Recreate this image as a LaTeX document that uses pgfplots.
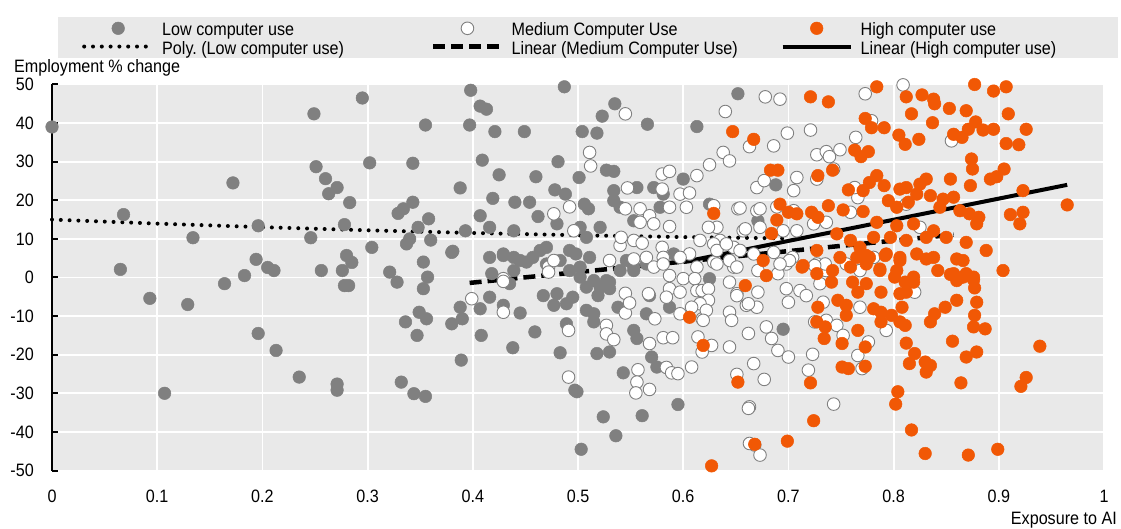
\documentclass[border=0pt]{standalone}
\usepackage{fontspec}
\setmainfont[FakeStretch=0.9]{Liberation Sans}
\usepackage{pgfplots}
\pgfplotsset{compat=1.18}
\definecolor{lowgray}{RGB}{128,128,128}
\definecolor{highor}{RGB}{241,88,5}
\definecolor{bggray}{RGB}{233,233,233}
\pgfplotsset{
 legmark/.style={legend image code/.code={\draw[mark repeat=2,mark phase=2,##1] plot coordinates {(0bp,0bp) (34bp,0bp) (68bp,0bp)};}},
 legline/.style={legend image code/.code={\draw[##1] plot coordinates {(0bp,0bp) (68bp,0bp)};}},
}
\frenchspacing
\newcommand{\lt}[2]{\makebox[#1][l]{\hspace{8bp}\rule[-3.75bp]{0pt}{20.5bp}#2}}
\begin{document}
\begin{tikzpicture}[font=\fontsize{18}{21}\selectfont]
\begin{axis}[
  scale only axis, width=1052bp, height=386bp,
  xmin=0, xmax=1, ymin=-50, ymax=50,
  clip=false,
  axis background/.style={fill=bggray},
  axis lines*=left,
  x axis line style={draw=none},
  y axis line style={black, line width=2bp},
  xtick={0,0.1,0.2,0.3,0.4,0.5,0.6,0.7,0.8,0.9,1},
  xticklabels={0,0.1,0.2,0.3,0.4,0.5,0.6,0.7,0.8,0.9,1},
  ytick={-50,-40,-30,-20,-10,0,10,20,30,40,50},
  yticklabels={-50,-40,-30,-20,-10,0,10,20,30,40,50},
  xtick style={draw=none},
  ytick style={black, line width=2bp},
  tick align=inside, major tick length=5.5bp,
  grid=major, major grid style={white, line width=1.8bp},
  xticklabel style={anchor=north, inner sep=0pt, yshift=-19bp},
  yticklabel style={anchor=east, inner sep=0pt, xshift=-18bp},
  title={Employment \% change},
  title style={at={(rel axis cs:0,1)}, anchor=south west, inner sep=0pt, xshift=-38bp, yshift=2bp},
  xlabel={Exposure to AI},
  xlabel style={at={(rel axis cs:1,0)}, anchor=north east, inner sep=0pt, xshift=13bp, yshift=-41bp},
  legend columns=3,
  legend cell align=left,
  legend style={at={(rel axis cs:0.0057,1.1749)}, anchor=north west, fill=bggray, draw=none,
    inner xsep=24bp, inner ysep=2bp, nodes={inner sep=0pt},
    /tikz/every even column/.style={column sep=0pt},
    /tikz/every odd column/.style={column sep=0pt}},
]
% Low computer use
\addplot[only marks, mark=*, mark size=6.3bp, mark options={draw=lowgray, fill=lowgray, line width=0.5bp}, legmark] coordinates {
(0,39) (0.068,16.3) (0.065,2.1) (0.093,-5.4) (0.107,-30) (0.129,-7) (0.134,10.3) (0.172,24.5)
(0.164,-1.6) (0.183,0.5) (0.196,13.4) (0.194,4.7) (0.196,-14.5) (0.205,2.6) (0.211,1.8) (0.213,-18.9)
(0.235,-25.8) (0.246,10.3) (0.249,42.4) (0.251,28.7) (0.256,1.8) (0.260,25.6) (0.263,21.7) (0.271,23.3)
(0.271,-27.6) (0.271,-29.2) (0.276,1.8) (0.278,-2.1) (0.282,-2.1) (0.278,13.7) (0.28,5.7) (0.283,19.4)
(0.285,3.9) (0.295,46.5) (0.302,29.7) (0.304,7.8)
(0.398,48.5) (0.407,44.4) (0.413,43.6) (0.487,49.4) (0.355,39.5) (0.397,39.5) (0.421,37.8) (0.449,37.8)
(0.504,37.8) (0.518,37.4) (0.535,45) (0.523,41.8) (0.566,39.7) (0.613,39.1) (0.652,47.6) (0.343,29.6)
(0.409,30.4) (0.425,26.6) (0.46,26.1) (0.481,30) (0.501,25.9) (0.527,27.8) (0.534,27.5) (0.388,23.2)
(0.419,20.5) (0.44,19.5) (0.454,19.5) (0.478,22.7) (0.488,21.6) (0.506,19) (0.51,17.8) (0.343,19.5)
(0.329,16.6) (0.334,17.8) (0.358,15.2) (0.348,13) (0.337,8.7) (0.34,10) (0.36,9.7) (0.393,12.1)
(0.407,16) (0.416,13) (0.439,12.1) (0.462,15.8) (0.48,13.9) (0.381,6.8) (0.353,4) (0.321,1.4)
(0.357,0.1) (0.418,1) (0.416,5.2) (0.429,6.1) (0.439,5.2) (0.451,4) (0.464,7) (0.47,7.8)
(0.502,13) (0.508,10.4) (0.492,7) (0.498,6.1) (0.511,5.2) (0.521,13) (0.534,22.5) (0.534,19.9)
(0.54,18.2) (0.556,23.3) (0.572,23.3) (0.581,21.6) (0.553,14.7) (0.578,18.2) (0.6,25.5) (0.591,6.1)
(0.546,4.4) (0.553,2.7) (0.527,-0.8) (0.625,19)
(0.429,5.7) (0.445,4.4) (0.457,5.2) (0.328,-1.2) (0.353,-2.9) (0.439,1.8) (0.435,-1.6) (0.47,3.5)
(0.483,4.4) (0.492,1.8) (0.502,2.7) (0.502,0.1) (0.515,-0.8) (0.508,-2.5) (0.521,-2.5) (0.53,-1.2)
(0.54,1.8) (0.553,1.8) (0.565,3.5) (0.467,-4.7) (0.48,-4.2) (0.495,-5.1) (0.477,-7.2) (0.489,-6.8)
(0.388,-7.7) (0.407,-8.1) (0.39,-10.7) (0.38,-12) (0.416,-5.1) (0.429,-7.2) (0.445,-9.2) (0.336,-11.5)
(0.349,-9) (0.356,-10.7) (0.347,-15) (0.408,-15) (0.438,-18.2) (0.459,-14.1) (0.483,-19.5) (0.389,-21.4)
(0.332,-27.1) (0.344,-30.1) (0.355,-30.8) (0.508,-8.5) (0.515,-9.4) (0.515,-11.5) (0.489,-12) (0.518,-19.7)
(0.53,-19.3) (0.499,-29.6) (0.497,-29.2) (0.524,-36.1) (0.561,-35.8) (0.536,-41) (0.503,-44.5) (0.543,-24.7)
(0.595,-32.9) (0.57,-20.6) (0.575,-23.2) (0.553,-13.7) (0.556,-15.8) (0.565,-9.4) (0.568,-4.7) (0.587,-7.7)
(0.519,-4.7) (0.53,-2.9) (0.538,-7.7) (0.38,6.5) (0.695,-13.4) (0.688,24) (0.671,14.7) (0.625,-0.3)
};
\addlegendentry{\lt{277bp}{Low computer use}}
% Medium computer use
\addplot[only marks, mark=*, mark size=6.3bp, mark options={draw=lowgray, fill=white, line width=0.9bp}, legmark] coordinates {
(0.545,42.4) (0.511,32.4) (0.512,28.9) (0.547,23.2) (0.58,26.8) (0.587,27.5) (0.58,22.9) (0.64,43)
(0.638,32.4) (0.644,30.2) (0.625,29.2) (0.613,26.4) (0.663,33.9) (0.597,21.6) (0.606,21.9) (0.603,18.2)
(0.587,18.2) (0.545,17.8) (0.559,17.8) (0.568,16) (0.572,13.9) (0.587,13.2) (0.58,7.8) (0.559,14.3)
(0.492,18.3) (0.477,16.5) (0.496,12.1) (0.54,8.3) (0.553,9.6) (0.561,8.9) (0.541,10.4) (0.553,4.8)
(0.565,5.2) (0.581,5.2) (0.629,18.6) (0.632,13) (0.624,13) (0.635,9.6) (0.648,7.8) (0.657,12.1)
(0.652,17.8) (0.67,17.3) (0.616,9.6) (0.629,8.7) (0.606,6.1) (0.613,2.7) (0.629,4) (0.648,2.7)
(0.472,2.7) (0.477,4.4) (0.429,-0.3) (0.67,23.3) (0.53,4.4)
(0.399,-5.5) (0.429,-9) (0.429,-1) (0.472,1.4) (0.491,-13.7) (0.491,-25.8) (0.527,-12.4) (0.527,-14.6)
(0.534,-16.1) (0.545,-4.1) (0.545,-9.2) (0.549,-6.6) (0.567,-4.2) (0.573,-10.7) (0.568,-17.1) (0.581,-15.6)
(0.59,-15.6) (0.557,-23.9) (0.556,-27.1) (0.555,-29.9) (0.568,-29) (0.584,-23.3) (0.589,-24.7) (0.595,-24.9)
(0.608,-23.2) (0.587,-2.9) (0.597,-3.8) (0.584,-5.1) (0.587,0.5) (0.6,-0.3) (0.611,-0.3) (0.613,-3.4)
(0.618,-3.4) (0.624,-2.9) (0.624,-5.9) (0.616,-6.8) (0.608,-7.7) (0.597,-9.4) (0.618,-10.7) (0.614,-15.4)
(0.627,-17.6) (0.618,-19.3) (0.572,2.7) (0.581,3.5) (0.597,5.2) (0.632,3.5) (0.644,4.4) (0.651,2.7)
(0.644,-1.2) (0.651,-4.2) (0.66,-7.2) (0.67,-7.7) (0.644,-9) (0.646,-11.1) (0.662,-14.5) (0.667,-22.3)
(0.651,-25.1) (0.663,-33.5) (0.668,-43.4) (0.663,-43) (0.673,-46)
(0.678,46.8) (0.692,46.2) (0.809,49.9) (0.773,47.6) (0.699,37.4) (0.721,38.2) (0.686,34.1) (0.727,31.8)
(0.736,32.6) (0.749,33.1) (0.739,31.3) (0.764,36.3) (0.779,40.6) (0.855,35.4) (0.708,25.9) (0.705,22.5)
(0.677,25.1) (0.743,28.1) (0.727,25.5) (0.654,18) (0.673,17.8) (0.689,18.3) (0.705,17.3) (0.659,12.6)
(0.673,13) (0.695,12.1) (0.708,12.1) (0.724,13.9) (0.736,14.3) (0.759,16.9) (0.766,20.7) (0.763,23.3)
(0.812,19) (0.825,13) (0.632,7) (0.641,8.7) (0.654,7) (0.667,6.1) (0.686,6.5) (0.698,3.5)
(0.704,5.2) (0.727,3.5) (0.736,1.8) (0.755,3.5) (0.768,1.8) (0.781,5.2)
(0.622,-8.5) (0.619,-11.1) (0.651,-4.7) (0.662,-6.8) (0.671,-3.8) (0.69,1) (0.698,-2.9) (0.7,-6.4)
(0.711,-3.4) (0.717,-4.7) (0.644,-18) (0.679,-12.8) (0.684,-15.8) (0.69,-18.9) (0.7,-20.6) (0.723,-19.9)
(0.719,-24) (0.677,-26.4) (0.662,-33.9) (0.743,-32.8) (0.725,-11.5) (0.736,-11.1) (0.746,-12.4) (0.752,-15)
(0.766,-20.2) (0.77,-23.6) (0.776,-16.7) (0.793,-13.7) (0.82,-3.8) (0.768,-7.7) (0.733,-6.4) (0.73,-1.6)
(0.735,3.5) (0.725,3.1) (0.701,4.4) (0.692,3.5) (0.671,1.8)
};
\addlegendentry{\lt{277bp}{Medium Computer Use}}
% High computer use
\addplot[only marks, mark=*, mark size=6.3bp, mark options={draw=highor, fill=highor, line width=0.5bp}, legmark] coordinates {
(0.784,49.4) (0.721,46.8) (0.738,45.5) (0.812,46.8) (0.827,47.3) (0.838,46.2) (0.839,45) (0.853,43.8)
(0.869,43.2) (0.877,50) (0.895,48.3) (0.907,49.4) (0.817,42.4) (0.909,42.4) (0.647,37.8) (0.667,35.8)
(0.773,41.2) (0.779,38.8) (0.791,38.8) (0.805,36.9) (0.811,34.5) (0.824,35.8) (0.837,40.1) (0.857,37.1)
(0.865,36.3) (0.871,38.4) (0.878,40.3) (0.885,38.2) (0.895,38.4) (0.926,38.4) (0.907,34.7) (0.919,34.4)
(0.763,33) (0.769,31.3) (0.776,32.6) (0.683,27.8) (0.69,27.8) (0.742,27.8) (0.728,26.4) (0.874,30.7)
(0.875,28.1) (0.905,28.1) (0.892,25.5) (0.898,26.1) (0.923,22.5) (0.965,18.8) (0.757,22.7) (0.784,26.4)
(0.777,24.6) (0.791,23.8) (0.806,22.9) (0.812,23.3) (0.825,24.2) (0.831,25.5) (0.854,25.5) (0.873,23.8)
(0.771,22.5) (0.795,19.9) (0.803,18.2) (0.814,19.5) (0.822,21.6) (0.835,21.2) (0.847,20.3) (0.857,20.8)
(0.844,18.2) (0.863,17.3) (0.872,16.5) (0.881,15.6) (0.879,13.9) (0.911,16.3) (0.923,16.9) (0.92,13.9)
(0.629,16.6) (0.692,19) (0.7,16.9) (0.708,16.5) (0.722,16.9) (0.728,15.6) (0.738,18.6) (0.752,17.5)
(0.771,17.1) (0.689,14.9) (0.684,11.4) (0.784,14.3) (0.803,13.4) (0.819,13.9) (0.838,12.1) (0.746,11.3)
(0.759,9.6) (0.768,7.8) (0.781,10.4) (0.797,10.4) (0.812,9.6) (0.831,10.4) (0.85,10.4) (0.869,9.1)
(0.888,7) (0.727,7) (0.749,5.2) (0.765,5.2) (0.777,5.2) (0.793,6.1) (0.806,5.2) (0.822,6.1)
(0.838,5.2) (0.86,4.8) (0.866,4.4) (0.676,4.4) (0.714,3.1) (0.727,1) (0.742,1.8) (0.759,2.7)
(0.774,3.5) (0.787,1.8) (0.803,1.8) (0.819,0.1) (0.842,1.8) (0.857,1) (0.869,1) (0.876,0.1)
(0.904,1.8) (0.679,0.5)
(0.659,-2.1) (0.713,2.7) (0.741,-1.2) (0.747,-5.9) (0.755,-7.2) (0.755,-9.8) (0.728,-7.7) (0.727,-11.5)
(0.735,-12.8) (0.734,-15.8) (0.751,-17.1) (0.774,5.7) (0.792,5.7) (0.806,4.4) (0.831,4.8) (0.761,-1.2)
(0.774,-1.6) (0.766,-3.8) (0.788,-3.8) (0.787,2.2) (0.801,0.1) (0.811,-1.2) (0.812,-3.8) (0.819,-1.2)
(0.806,-4.2) (0.781,-8.1) (0.788,-9) (0.798,-9.8) (0.808,-7.7) (0.806,-11.5) (0.811,-12.4) (0.788,-11.5)
(0.766,-13.7) (0.773,-18) (0.751,-23.2) (0.757,-23.6) (0.773,-23) (0.812,-17) (0.82,-19.7) (0.815,-22.3)
(0.83,-21.9) (0.835,-22.8) (0.831,-24.5) (0.854,0.8) (0.86,-0.8) (0.866,0.1) (0.876,-0.6) (0.877,-2.7)
(0.879,-6.4) (0.877,-9.8) (0.876,-12.8) (0.887,-13.3) (0.86,-5.9) (0.849,-7.7) (0.839,-9.4) (0.835,-11.5)
(0.856,-16.5) (0.869,-20.6) (0.879,-19.3) (0.939,-17.8) (0.921,-28.2) (0.926,-25.9) (0.864,-27.3) (0.804,-29.6)
(0.802,-32.8) (0.817,-39.5) (0.83,-45.6) (0.871,-46) (0.899,-44.5) (0.724,-37.1) (0.699,-42.4) (0.668,-43.2)
(0.627,-48.8) (0.652,-27.1) (0.721,-27.3) (0.619,-17.6) (0.606,-10.3)
};
\addlegendentry{\lt{241bp}{High computer use}}
% Poly (Low)
\addplot[black, line width=4bp, line cap=round, dash pattern=on 0bp off 8.8bp, legline] coordinates {
(0,15) (0.1,13.96) (0.2,13.04) (0.3,12.23) (0.4,11.53) (0.5,10.95) (0.6,10.47) (0.7,10.12)
};
\addlegendentry{\lt{277bp}{Poly. (Low computer use)}}
% Linear (Medium)
\addplot[black, line width=4.5bp, dash pattern=on 12bp off 6bp, legline] coordinates {
(0.397,-1.4) (0.857,11.1)
};
\addlegendentry{\lt{277bp}{Linear (Medium Computer Use)}}
% Linear (High)
\addplot[black, line width=4bp, legline] coordinates {
(0.6,4.0) (0.965,24.0)
};
\addlegendentry{\lt{241bp}{Linear (High computer use)}}
\end{axis}
\pgfresetboundingbox
\useasboundingbox ([shift={(-52bp,-57.5bp)}]current axis.south west) rectangle ([shift={(17bp,84.5bp)}]current axis.north east);
\end{tikzpicture}
\end{document}
